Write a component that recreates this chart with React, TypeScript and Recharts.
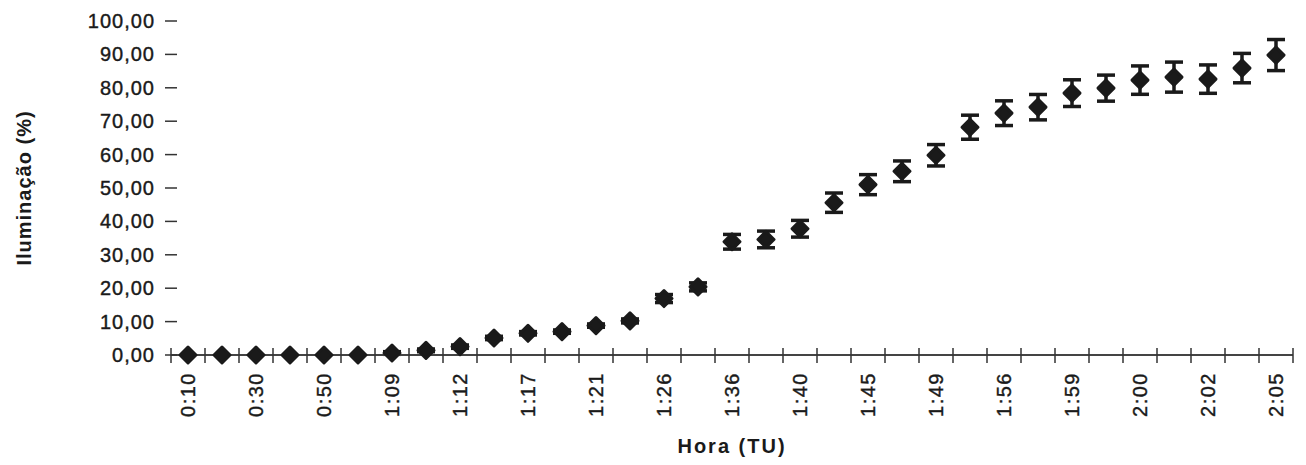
import { ScatterChart, Scatter, XAxis, YAxis, ErrorBar, Label } from "recharts";

// one reading roughly every few minutes; only every second one is labelled on the axis
const timeLabels = [
  "0:10", "0:30", "0:50", "1:09", "1:12", "1:17", "1:21", "1:26", "1:36",
  "1:40", "1:45", "1:49", "1:56", "1:59", "2:00", "2:02", "2:05",
];

const illumination = [
  0, 0, 0, 0, 0, 0, 0.6, 1.4, 2.5, 5.1, 6.5, 7.0, 8.8, 10.2, 16.9, 20.4, 33.9,
  34.6, 37.8, 45.6, 51.0, 55.0, 59.8, 68.2, 72.4, 74.2, 78.4, 79.9, 82.3, 83.2,
  82.6, 85.9, 89.8,
];

const stdDev = [
  0, 0, 0, 0, 0, 0, 0.4, 0.4, 0.5, 0.5, 0.5, 0.5, 0.5, 0.6, 1.2, 1.2, 2.2,
  2.5, 2.5, 2.9, 3.0, 3.1, 3.2, 3.6, 3.7, 3.8, 4.0, 3.9, 4.25, 4.5, 4.25, 4.4,
  4.65,
];

const yTicks = [0, 10, 20, 30, 40, 50, 60, 70, 80, 90, 100];

const points = illumination.map((v, i) => ({ idx: i, value: v, err: stdDev[i] }));
const n = illumination.length;
// half steps: boundaries get a tick mark, even readings get a label
const xTicks = Array.from({ length: 2 * n + 1 }, (_, k) => k / 2 - 0.5);

const FONT = "'Liberation Sans', Arial, sans-serif";
const INK = "#1a1a1a";

const fmt = (v: number) => v.toFixed(2).replace(".", ",");

function XTick({ x, y, payload }: any) {
  const v = payload.value as number;
  if (!Number.isInteger(v)) {
    return <line x1={x} x2={x} y1={y - 7} y2={y + 8} stroke="#333" strokeWidth={1.5} />;
  }
  if (v % 2 !== 0) return null;
  const ty = y + 17;
  return (
    <text
      x={x}
      y={ty}
      dy="0.35em"
      transform={`rotate(-90, ${x}, ${ty})`}
      textAnchor="end"
      fontFamily={FONT}
      fontSize={20}
      letterSpacing={1.5}
      fill={INK}
      stroke={INK}
      strokeWidth={0.4}
    >
      {timeLabels[v / 2]}
    </text>
  );
}

function YTick({ x, y, payload }: any) {
  return (
    <g>
      <line x1={x - 6} x2={x + 6} y1={y} y2={y} stroke="#333" strokeWidth={1.5} />
      <text
        x={x - 16}
        y={y}
        dy="0.35em"
        textAnchor="end"
        fontFamily={FONT}
        fontSize={20}
        letterSpacing={1}
        fill={INK}
        stroke={INK}
        strokeWidth={0.4}
      >
        {fmt(payload.value)}
      </text>
    </g>
  );
}

function Diamond({ cx, cy }: any) {
  const r = 8;
  return (
    <polygon
      points={`${cx},${cy - r} ${cx + r},${cy} ${cx},${cy + r} ${cx - r},${cy}`}
      fill={INK}
      stroke={INK}
      strokeWidth={3}
      strokeLinejoin="round"
    />
  );
}

const xTitle = ({ viewBox }: any) => (
  <text
    x={viewBox.x + viewBox.width / 2}
    y={viewBox.y + 98}
    textAnchor="middle"
    fontFamily={FONT}
    fontWeight="bold"
    fontSize={20}
    letterSpacing={2}
    fill={INK}
  >
    Hora (TU)
  </text>
);

const yTitle = ({ viewBox }: any) => {
  const cx = viewBox.x + 24;
  const cy = viewBox.y + viewBox.height / 2;
  return (
    <text
      x={cx}
      y={cy}
      dy="0.35em"
      transform={`rotate(-90, ${cx}, ${cy})`}
      textAnchor="middle"
      fontFamily={FONT}
      fontWeight="bold"
      fontSize={20}
      letterSpacing={1}
      fill={INK}
    >
      Iluminação (%)
    </text>
  );
};

export default function App() {
  return (
    <div style={{ position: "absolute", left: 0, top: 0, width: 1306, height: 465, background: "#fff" }}>
      <ScatterChart width={1306} height={465} margin={{ top: 21, right: 13, left: 0, bottom: 0 }}>
        <XAxis
          type="number"
          dataKey="idx"
          domain={[-0.5, n - 0.5]}
          ticks={xTicks}
          interval={0}
          tick={<XTick />}
          tickLine={false}
          tickSize={0}
          tickMargin={0}
          axisLine={{ stroke: "#444", strokeWidth: 2 }}
          height={110}
        >
          <Label content={xTitle} />
        </XAxis>
        <YAxis
          type="number"
          dataKey="value"
          domain={[0, 100]}
          ticks={yTicks}
          interval={0}
          tick={<YTick />}
          tickLine={false}
          tickSize={0}
          tickMargin={0}
          axisLine={false}
          width={171}
        >
          <Label content={yTitle} />
        </YAxis>
        <Scatter data={points} shape={<Diamond />} fill={INK} isAnimationActive={false}>
          <ErrorBar dataKey="err" direction="y" width={9} stroke={INK} strokeWidth={3.5} />
        </Scatter>
      </ScatterChart>
    </div>
  );
}
